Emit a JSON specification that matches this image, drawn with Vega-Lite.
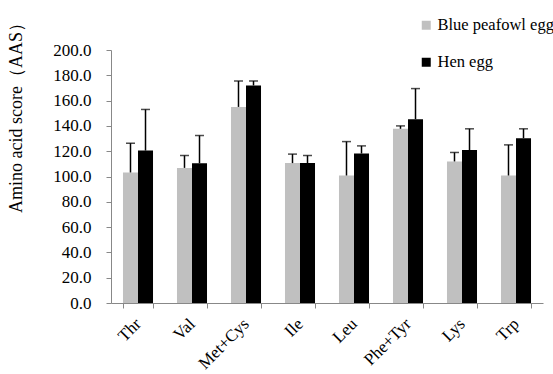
{
  "$schema": "https://vega.github.io/schema/vega-lite/v6.json",
  "autosize": "none",
  "width": 432,
  "height": 253,
  "padding": {"left": 111, "top": 50, "right": 10, "bottom": 71},
  "background": "white",
  "config": {
    "view": {"stroke": null},
    "font": "Liberation Serif",
    "axis": {"grid": false, "domainColor": "#888888", "tickColor": "#888888", "labelColor": "#000000", "labelFont": "Liberation Serif", "titleFont": "Liberation Serif"},
    "axisX": {"labelAngle": -45, "labelAlign": "right", "labelBaseline": "middle", "labelOverlap": false},
    "axisY": {"labelOverlap": false}
  },
  "data": {
    "values": [
      {"aa": "Thr", "group": "Blue peafowl egg", "value": 103.2, "upper": 126.3},
      {"aa": "Thr", "group": "Hen egg", "value": 120.5, "upper": 153.0},
      {"aa": "Val", "group": "Blue peafowl egg", "value": 106.8, "upper": 116.6},
      {"aa": "Val", "group": "Hen egg", "value": 110.5, "upper": 132.4},
      {"aa": "Met+Cys", "group": "Blue peafowl egg", "value": 155.0, "upper": 175.5},
      {"aa": "Met+Cys", "group": "Hen egg", "value": 172.0, "upper": 175.5},
      {"aa": "Ile", "group": "Blue peafowl egg", "value": 110.6, "upper": 117.7},
      {"aa": "Ile", "group": "Hen egg", "value": 110.6, "upper": 116.6},
      {"aa": "Leu", "group": "Blue peafowl egg", "value": 100.8, "upper": 127.6},
      {"aa": "Leu", "group": "Hen egg", "value": 118.2, "upper": 124.2},
      {"aa": "Phe+Tyr", "group": "Blue peafowl egg", "value": 137.7, "upper": 140.0},
      {"aa": "Phe+Tyr", "group": "Hen egg", "value": 145.3, "upper": 169.5},
      {"aa": "Lys", "group": "Blue peafowl egg", "value": 111.9, "upper": 119.0},
      {"aa": "Lys", "group": "Hen egg", "value": 120.9, "upper": 137.7},
      {"aa": "Trp", "group": "Blue peafowl egg", "value": 100.8, "upper": 125.0},
      {"aa": "Trp", "group": "Hen egg", "value": 130.3, "upper": 137.7}
    ]
  },
  "encoding": {
    "x": {
      "field": "aa", "type": "nominal",
      "sort": ["Thr", "Val", "Met+Cys", "Ile", "Leu", "Phe+Tyr", "Lys", "Trp"],
      "scale": {"paddingInner": 0.444, "paddingOuter": 0.222},
      "axis": {"title": null, "labelAngle": -45, "labelFontSize": 17, "tickBand": "extent", "tickSize": 5, "labelPadding": 13}
    },
    "xOffset": {"field": "group", "type": "nominal", "sort": ["Blue peafowl egg", "Hen egg"]},
    "y": {
      "field": "value", "type": "quantitative",
      "scale": {"domain": [0, 200], "nice": false},
      "axis": {"title": "Amino acid score（AAS）", "format": ".1f", "tickCount": 10, "labelFontSize": 17, "tickSize": 5, "titleFontSize": 18, "titleFontWeight": "normal", "titleX": -86, "titleY": 63, "labelPadding": 15}
    }
  },
  "layer": [
    {
      "mark": {"type": "bar"},
      "encoding": {
        "color": {
          "field": "group", "type": "nominal",
          "sort": ["Blue peafowl egg", "Hen egg"],
          "scale": {"range": ["#c0c0c0", "#000000"]},
          "legend": {"title": null, "orient": "none", "legendX": 307, "legendY": -33, "symbolType": "square", "symbolSize": 81, "symbolStrokeWidth": 0, "labelFontSize": 16.5, "rowPadding": 20, "labelOffset": 3}
        }
      }
    },
    {
      "mark": {"type": "rule", "color": "#000000", "strokeWidth": 1.5},
      "encoding": {
        "y2": {"field": "upper"}
      }
    },
    {
      "mark": {"type": "tick", "color": "#000000", "thickness": 1.5, "size": 9},
      "encoding": {
        "y": {"field": "upper", "type": "quantitative"}
      }
    }
  ]
}
